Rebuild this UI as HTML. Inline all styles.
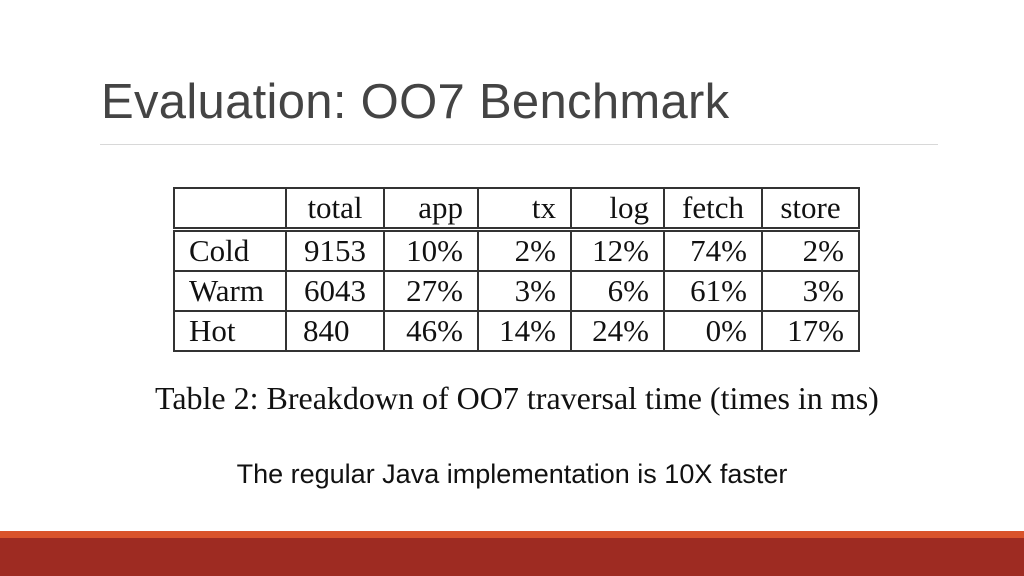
<!DOCTYPE html>
<html><head><meta charset="utf-8"><style>
body{margin:0;width:1024px;height:576px;background:#fff;position:relative;overflow:hidden;font-family:"Liberation Sans",sans-serif}
.title{position:absolute;left:101px;top:74px;font-size:49px;color:#444;white-space:nowrap;letter-spacing:0.3px}
.rule{position:absolute;left:100px;top:144px;width:838px;height:1px;background:#d8d8d8}
table{position:absolute;left:173px;top:187px;border-collapse:collapse;font-family:"Liberation Serif",serif;font-size:31px;color:#111}
td{border:2px solid #333;height:38px;padding:0 14px;text-align:right;line-height:38px;white-space:nowrap}
td:first-child{text-align:left}
tr.hdr td{height:37px;border-bottom:5px double #333}
.cap{position:absolute;left:155px;top:380px;font-family:"Liberation Serif",serif;font-size:32px;color:#111;white-space:nowrap}
.note{position:absolute;left:0;width:1024px;top:459px;text-align:center;font-size:27px;color:#111}
.b1{position:absolute;left:0;top:531px;width:1024px;height:7px;background:#d9532b}
.b2{position:absolute;left:0;top:538px;width:1024px;height:38px;background:#9e2b22}
</style></head><body>
<div class="title">Evaluation: OO7 Benchmark</div>
<div class="rule"></div>
<table>
<colgroup><col style="width:112px"><col style="width:98px"><col style="width:94px"><col style="width:93px"><col style="width:93px"><col style="width:98px"><col style="width:97px"></colgroup>
<tr class="hdr"><td></td><td style="text-align:center">total</td><td>app</td><td>tx</td><td>log</td><td style="text-align:center">fetch</td><td style="text-align:center">store</td></tr>
<tr><td>Cold</td><td style="text-align:center">9153</td><td>10%</td><td>2%</td><td>12%</td><td>74%</td><td>2%</td></tr>
<tr><td>Warm</td><td style="text-align:center">6043</td><td>27%</td><td>3%</td><td>6%</td><td>61%</td><td>3%</td></tr>
<tr><td>Hot</td><td style="text-align:left;padding-left:16px">840</td><td>46%</td><td>14%</td><td>24%</td><td>0%</td><td>17%</td></tr>
</table>
<div class="cap">Table 2: Breakdown of OO7 traversal time (times in ms)</div>
<div class="note">The regular Java implementation is 10X faster</div>
<div class="b1"></div>
<div class="b2"></div>
</body></html>
